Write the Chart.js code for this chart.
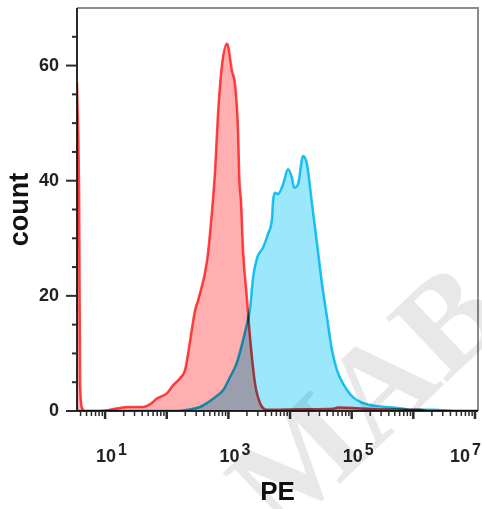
<!DOCTYPE html>
<html lang="en">
<head>
<meta charset="UTF-8">
<title>PE histogram</title>
<script src="https://cdn.jsdelivr.net/npm/chart.js@4.4.0/dist/chart.umd.min.js"></script>
<style>
  body { margin: 0; background: #fff; }
  canvas { display: block; }
</style>
</head>
<body>
<canvas id="chart" width="482" height="509"></canvas>
<script>
// red population (PE value, count)
const redX = [3.5, 3.79, 3.93, 4.24, 4.56, 8.3, 12, 23, 41, 54, 70, 101, 127, 164, 198, 222, 258, 288, 322,
  451, 543, 608, 679, 789, 951, 1146, 1282, 1435, 1500, 1600, 1729, 2009, 2245, 2706, 3262, 4235,
  14500, 50000, 60000, 290000, 1280000, 1860000, 11200000];
const redY = [57, 36.5, 4.8, 0.5, 0, 0, 0.2, 0.7, 0.7, 1.2, 2.2, 3.1, 4.5, 5.7, 7.1, 10, 14.5, 17.5, 19.2,
  26.1, 34.8, 41.7, 51.6, 60.2, 63.8, 59, 56.7, 48.6, 40.5, 36.5, 27.9, 19.2, 12.8, 4.8, 1.4, 0.2,
  0.3, 0.4, 0.6, 0.3, 0.2, 0, 0];

// cyan population (PE value, count)
const cyanX = [3.5, 150, 214, 347, 451, 608, 819, 1064, 1381, 1729, 2009, 2245, 2512, 2917, 3648, 4395,
  5105, 5300, 5710, 6385, 7700, 9270, 10770, 11610, 13490, 16250, 18840, 22750, 27420, 33040, 39810,
  47970, 57810, 72300, 105000, 152700, 238800, 606900, 986900, 2080000, 5710000, 11200000];
const cyanY = [0, 0, 0.2, 0.7, 1.4, 2.4, 3.6, 5.9, 8.5, 12.3, 15.2, 17.8, 23.2, 26.6, 28.4, 30.8,
  33.6, 36.5, 37.9, 37.7, 39.4, 42, 40.5, 38.8, 39.4, 44.3, 42.9, 36, 29.1, 22.1, 16.3,
  10.6, 7.1, 4.8, 2.4, 1.4, 0.9, 0.5, 0.2, 0.2, 0, 0];

const yLabelled = [0, 20, 40, 60];
const xLabelExps = [1, 3, 5, 7];

function pts(xs, ys) {
    return xs.map((x, i) => ({ x: x, y: ys[i] }));
}

const frame = {
    id: 'frame',
    beforeDatasetsDraw(chart) {
        const ctx = chart.ctx, a = chart.chartArea;
        const xs = chart.scales.x, ys = chart.scales.y;
        ctx.save();
        ctx.lineWidth = 2;
        ctx.strokeStyle = '#8c8c8c';
        ctx.beginPath();
        ctx.moveTo(a.left, a.top);
        ctx.lineTo(a.right, a.top);
        ctx.lineTo(a.right, a.bottom);
        ctx.stroke();

        ctx.strokeStyle = '#2b2b2b';
        ctx.beginPath();
        ctx.moveTo(a.left, a.top);
        ctx.lineTo(a.left, a.bottom);
        ctx.lineTo(a.right, a.bottom);
        ctx.stroke();

        // y ticks, long on the labelled ones
        for (let v = ys.min; v < ys.max; v += 5) {
            const y = ys.getPixelForValue(v);
            const len = yLabelled.includes(v) ? 11 : 5;
            ctx.beginPath();
            ctx.moveTo(a.left - len, y);
            ctx.lineTo(a.left, y);
            ctx.stroke();
        }
        // x ticks for every 1..9 x 10^n
        for (let e = 0; e <= 7; e++) {
            for (let m = 1; m <= 9; m++) {
                const v = m * Math.pow(10, e);
                if (v < xs.min || v > xs.max) continue;
                const x = xs.getPixelForValue(v);
                ctx.lineWidth = m === 1 ? 2.5 : 1.5;
                ctx.beginPath();
                ctx.moveTo(x, a.bottom);
                ctx.lineTo(x, a.bottom + (m === 1 ? 8 : 5));
                ctx.stroke();
            }
        }
        ctx.restore();
        ctx.globalCompositeOperation = 'multiply';
    },
    afterDatasetsDraw(chart) {
        chart.ctx.globalCompositeOperation = 'source-over';
    },
    afterDraw(chart) {
        const ctx = chart.ctx, xs = chart.scales.x;
        ctx.save();
        ctx.fillStyle = '#222';
        xLabelExps.forEach(e => {
            let x = xs.getPixelForValue(Math.pow(10, e));
            ctx.font = 'bold 18px "Liberation Sans", Arial, sans-serif';
            const w = ctx.measureText('10').width;
            ctx.font = 'bold 16px "Liberation Sans", Arial, sans-serif';
            const we = ctx.measureText(String(e)).width;
            let left = x + 1 - w / 2;
            const right = left + w + 2 + we;
            if (right > chart.width - 1) left -= right - (chart.width - 1);
            ctx.textAlign = 'left';
            ctx.textBaseline = 'alphabetic';
            ctx.font = 'bold 18px "Liberation Sans", Arial, sans-serif';
            ctx.fillText('10', left, 462);
            ctx.font = 'bold 16px "Liberation Sans", Arial, sans-serif';
            ctx.fillText(String(e), left + w + 2, 455);
        });

        // watermark
        ctx.translate(372, 405);
        ctx.rotate(-0.76);
        ctx.font = 'bold 135px "Liberation Serif", serif';
        ctx.fillStyle = 'rgba(0,0,0,0.09)';
        ctx.textAlign = 'center';
        ctx.textBaseline = 'middle';
        ctx.fillText('MAB', 0, 0);
        ctx.restore();
    }
};

new Chart(document.getElementById('chart'), {
    type: 'line',
    data: {
        datasets: [
            {
                label: 'red',
                data: pts(redX, redY),
                borderColor: 'rgb(255,70,70)',
                backgroundColor: 'rgb(255,175,175)',
                borderWidth: 2.5,
                fill: 'origin',
                pointRadius: 0,
                cubicInterpolationMode: 'monotone',
                order: 2
            },
            {
                label: 'cyan',
                data: pts(cyanX, cyanY),
                borderColor: 'rgb(30,200,242)',
                backgroundColor: 'rgb(155,232,252)',
                borderWidth: 2.5,
                fill: 'origin',
                pointRadius: 0,
                cubicInterpolationMode: 'monotone',
                order: 1
            }
        ]
    },
    options: {
        responsive: false,
        animation: false,
        layout: { padding: { left: 0, right: 4, top: 8, bottom: 0 } },
        plugins: { legend: { display: false }, tooltip: { enabled: false } },
        scales: {
            x: {
                type: 'logarithmic',
                min: 3.5,
                max: 11200000,
                grid: { display: false },
                border: { display: false },
                ticks: { display: false },
                title: {
                    display: true,
                    text: 'PE',
                    color: '#111',
                    font: { family: '"Liberation Sans", Arial, sans-serif', size: 26, weight: 'bold' },
                    padding: { top: 0, bottom: 1 }
                },
                afterFit(scale) {
                    scale.height = 98;
                    scale.paddingLeft = 0;
                    scale.paddingRight = 0;
                }
            },
            y: {
                min: 0,
                max: 70,
                grid: { display: false, drawTicks: false },
                border: { display: false },
                ticks: {
                    stepSize: 5,
                    autoSkip: false,
                    padding: 18,
                    color: '#222',
                    font: { family: '"Liberation Sans", Arial, sans-serif', size: 18, weight: 'bold' },
                    callback: v => (yLabelled.includes(v) ? String(v) : '')
                },
                title: {
                    display: true,
                    text: 'count',
                    color: '#111',
                    font: { family: '"Liberation Sans", Arial, sans-serif', size: 27, weight: 'bold' },
                    padding: { top: 4, bottom: 0 }
                },
                afterFit(scale) {
                    scale.width = 77;
                    scale.paddingTop = 0;
                    scale.paddingBottom = 0;
                }
            }
        }
    },
    plugins: [frame]
});
</script>
</body>
</html>
